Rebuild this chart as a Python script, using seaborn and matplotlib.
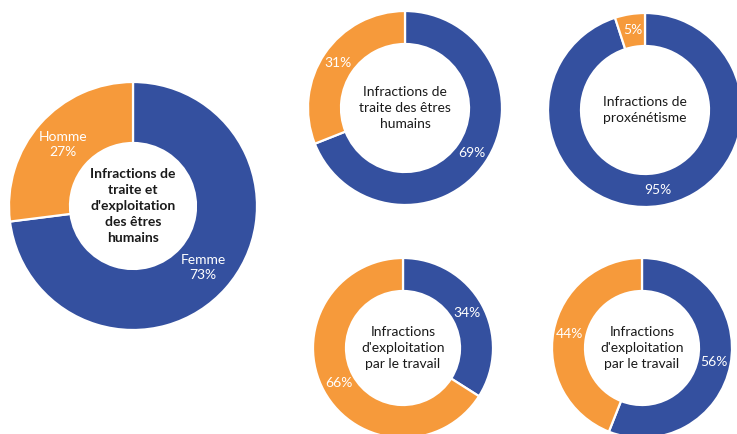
import matplotlib.pyplot as plt
import numpy as np
import seaborn as sns

# données : part femmes / hommes par type d'infraction
titres = [
    "Infractions de\ntraite et\nd'exploitation\ndes êtres\nhumains",
    "Infractions de\ntraite des êtres\nhumains",
    "Infractions de\nproxénétisme",
    "Infractions\nd'exploitation\npar le travail",
    "Infractions\nd'exploitation\npar le travail",
]
femme = [73, 69, 95, 34, 56]
homme = [27, 31, 5, 66, 44]
noms = ["Femme", "Homme"]

sns.set_theme(style="white")
plt.rcParams["font.family"] = ["Lato", "DejaVu Sans"]

bleu = "#34509F"
orange = "#F69A3B"

W, H = 737, 434
fig = plt.figure(figsize=(W / 100, H / 100), dpi=100)
ax = fig.add_axes([0, 0, 1, 1])

# centre (x, y image), rayon, épaisseur de l'anneau
anneaux = [
    ((133, 206), 124, 61),
    ((405, 108), 97, 33),
    ((645, 110), 97, 33),
    ((403, 348), 90, 33),
    ((642, 348), 90, 33),
]

for i, ((cx, cy), r, ep) in enumerate(anneaux):
    centre = (cx, H - cy)
    wedges, _ = ax.pie(
        [femme[i], homme[i]],
        colors=[bleu, orange],
        startangle=90,
        counterclock=False,
        center=centre,
        radius=r,
        frame=True,
        wedgeprops=dict(width=ep, edgecolor="white", linewidth=1.6),
    )
    r_mid = r - ep / 2
    for j, (w, v) in enumerate(zip(wedges, [femme[i], homme[i]])):
        ang = np.deg2rad((w.theta1 + w.theta2) / 2)
        txt = f"{v}%" if i > 0 else f"{noms[j]}\n{v}%"
        ax.text(
            centre[0] + r_mid * np.cos(ang),
            centre[1] + r_mid * np.sin(ang),
            txt,
            ha="center",
            va="center",
            color="white",
            fontsize=10,
            linespacing=1.3,
        )
    ax.text(
        centre[0],
        centre[1],
        titres[i],
        ha="center",
        va="center",
        color="#1a1a1a",
        fontsize=10,
        weight="bold" if i == 0 else "normal",
        linespacing=1.4,
    )

ax.set_xlim(0, W)
ax.set_ylim(0, H)
ax.set_aspect("equal")
ax.axis("off")

fig.savefig("out.png", dpi=100)
